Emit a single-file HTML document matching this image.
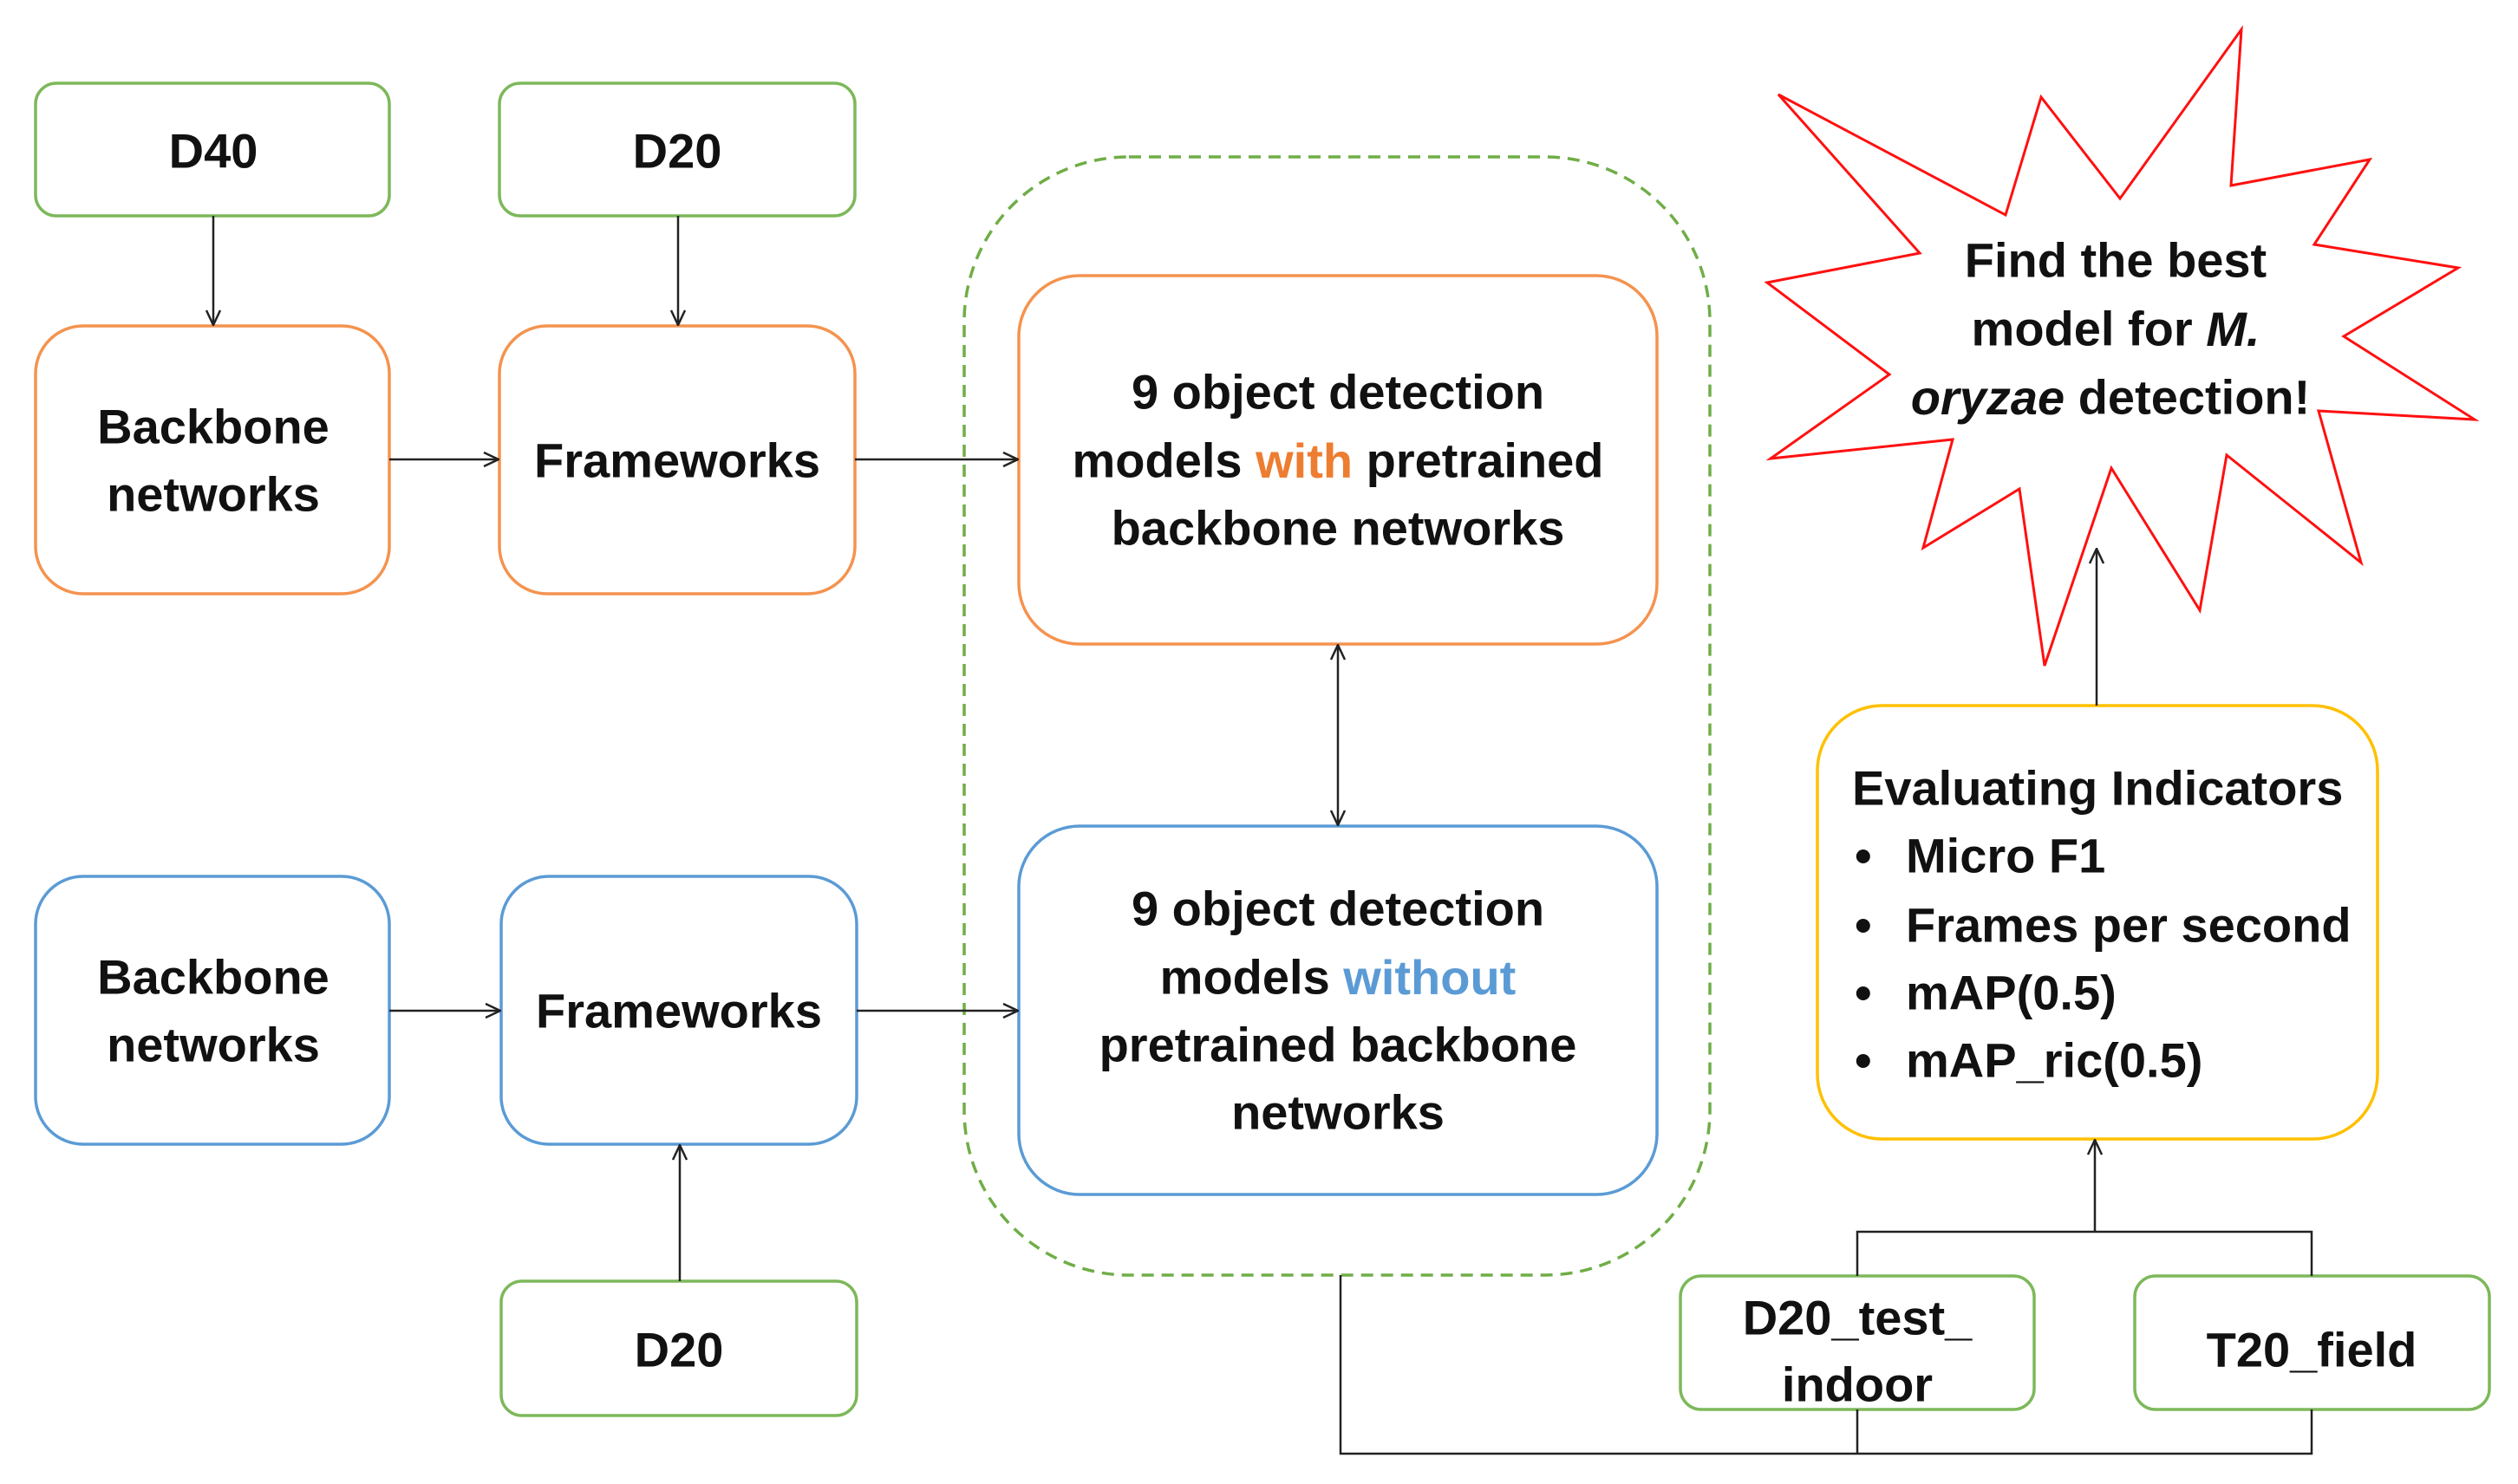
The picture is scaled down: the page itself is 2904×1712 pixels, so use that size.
<!DOCTYPE html>
<html><head><meta charset="utf-8"><style>
html,body{margin:0;padding:0;background:#fff}
svg{display:block}
text{font-family:"Liberation Sans",sans-serif;font-weight:bold;font-size:56px;fill:#111}
</style></head><body>
<svg width="2904" height="1712" viewBox="0 0 2904 1712" xmlns="http://www.w3.org/2000/svg">
<defs>
<marker id="a" viewBox="0 0 20 20" refX="19" refY="10" markerWidth="20" markerHeight="20" markerUnits="userSpaceOnUse" orient="auto-start-reverse">
<path d="M2,2 L19,10 L2,18" fill="none" stroke="#222" stroke-width="2.5"/>
</marker>
</defs>
<g fill="#fff" stroke-width="3.5">
<rect x="1112" y="181" width="860" height="1290" rx="190" ry="190" fill="none" stroke="#70AD47" stroke-dasharray="14,9"/>
<rect x="41" y="96" width="408" height="153" rx="24" stroke="#7DB85A"/>
<rect x="576" y="96" width="410" height="153" rx="24" stroke="#7DB85A"/>
<rect x="578" y="1478" width="410" height="155" rx="24" stroke="#7DB85A"/>
<rect x="1938" y="1472" width="408" height="154" rx="24" stroke="#7DB85A"/>
<rect x="2462" y="1472" width="409" height="154" rx="24" stroke="#7DB85A"/>
<rect x="41" y="376" width="408" height="309" rx="55" stroke="#F4934F"/>
<rect x="576" y="376" width="410" height="309" rx="55" stroke="#F4934F"/>
<rect x="1175" y="318" width="736" height="425" rx="70" stroke="#F4934F"/>
<rect x="41" y="1011" width="408" height="309" rx="55" stroke="#5B9BD5"/>
<rect x="578" y="1011" width="410" height="309" rx="55" stroke="#5B9BD5"/>
<rect x="1175" y="953" width="736" height="425" rx="70" stroke="#5B9BD5"/>
<rect x="2096" y="814" width="646" height="500" rx="75" stroke="#FFC000"/>
<polygon fill="none" stroke="#FF1010" stroke-width="3" points="2051,109 2214,292 2038,326 2179,432 2042,529 2252,507 2218,632 2329,564 2358,768 2435,540 2537,704 2568,525 2723,649 2674,474 2854,484 2703,388 2835,309 2669,282 2733,184 2573,214 2585,34 2445,229 2354,112 2313,248"/>
</g>
<g stroke="#222" stroke-width="2.5" fill="none">
<line x1="246" y1="249" x2="246" y2="375" marker-end="url(#a)"/>
<line x1="782" y1="249" x2="782" y2="375" marker-end="url(#a)"/>
<line x1="449" y1="530" x2="575" y2="530" marker-end="url(#a)"/>
<line x1="986" y1="530" x2="1174" y2="530" marker-end="url(#a)"/>
<line x1="1543" y1="744" x2="1543" y2="952" marker-start="url(#a)" marker-end="url(#a)"/>
<line x1="449" y1="1166" x2="577" y2="1166" marker-end="url(#a)"/>
<line x1="988" y1="1166" x2="1174" y2="1166" marker-end="url(#a)"/>
<line x1="784" y1="1478" x2="784" y2="1321" marker-end="url(#a)"/>
<polyline points="1546,1471 1546,1677 2666,1677 2666,1626"/>
<line x1="2142" y1="1626" x2="2142" y2="1677"/>
<polyline points="2142,1472 2142,1421 2666,1421 2666,1472"/>
<line x1="2416" y1="1421" x2="2416" y2="1315" marker-end="url(#a)"/>
<line x1="2418" y1="814" x2="2418" y2="633" marker-end="url(#a)"/>
</g>
<g text-anchor="middle" dominant-baseline="central">
<text x="246" y="174">D40</text>
<text x="781" y="174">D20</text>
<text x="783" y="1557">D20</text>
<text x="2142" y="1520">D20_test_</text>
<text x="2142" y="1597">indoor</text>
<text x="2666" y="1557">T20_field</text>
<text x="246" y="492">Backbone</text>
<text x="246" y="570">networks</text>
<text x="781" y="531">Frameworks</text>
<text x="246" y="1127">Backbone</text>
<text x="246" y="1205">networks</text>
<text x="783" y="1166">Frameworks</text>
<text x="1543" y="452">9 object detection</text>
<text x="1543" y="531">models <tspan fill="#ED7D31">with</tspan> pretrained</text>
<text x="1543" y="609">backbone networks</text>
<text x="1543" y="1048">9 object detection</text>
<text x="1543" y="1127">models <tspan fill="#5B9BD5">without</tspan></text>
<text x="1543" y="1205">pretrained backbone</text>
<text x="1543" y="1283">networks</text>
<text x="2440" y="300">Find the best</text>
<text x="2440" y="379">model for <tspan font-style="italic">M.</tspan></text>
<text x="2434" y="458"><tspan font-style="italic">oryzae</tspan> detection!</text>
</g>
<g dominant-baseline="central">
<text x="2136" y="909">Evaluating Indicators</text>
<text x="2139" y="987">•</text><text x="2198" y="987">Micro F1</text>
<text x="2139" y="1067">•</text><text x="2198" y="1067">Frames per second</text>
<text x="2139" y="1145">•</text><text x="2198" y="1145">mAP(0.5)</text>
<text x="2139" y="1223">•</text><text x="2198" y="1223">mAP_ric(0.5)</text>
</g>
</svg>
</body></html>
